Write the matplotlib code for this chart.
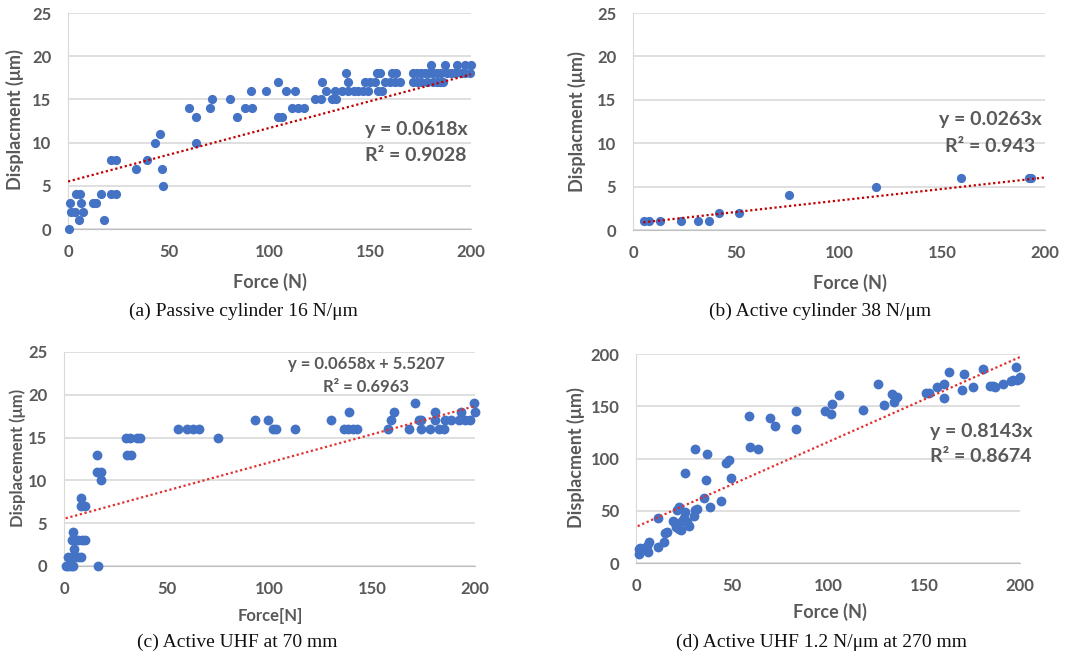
import matplotlib
matplotlib.use("Agg")
import matplotlib.pyplot as plt
import numpy as np

# (a) Passive cylinder
a_force = [0.3, 1, 1.5, 3.5, 4, 6, 6.5, 5.6, 7.3, 12.4, 14, 16.5, 17.7, 21.3, 23.8, 21.3, 23.8,
           33.7, 39, 43.3, 45.5, 46.6, 47.1, 60, 63.7, 63.7, 70.5, 71.5, 80.2, 83.7, 87.8, 91, 91.3,
           98.4, 104.2, 104.2, 106.2, 108, 111.3, 114, 117, 112.5, 122.6, 125.4, 126, 128.2, 130.9,
           132.8, 132.5, 136, 139, 142, 144, 146.5, 137.8, 139, 147.4, 149.9, 152.4, 148.9, 153.2,
           154.8, 154, 156, 157.3, 159.8, 162.3, 164.8, 161, 162.8, 171, 173, 175, 177, 179, 181,
           183, 185, 171, 173, 175, 178, 181, 183, 186, 180.2, 187.1, 188, 190, 192, 195, 197, 199.5,
           193.2, 197, 199.8, 184.6]
a_disp = [0, 3, 2, 2, 4, 4, 3, 1, 2, 3, 3, 4, 1, 8, 8, 4, 4,
          7, 8, 10, 11, 7, 5, 14, 13, 10, 14, 15, 15, 13, 14, 16, 14,
          16, 17, 13, 13, 16, 14, 14, 14, 16, 15, 15, 17, 16, 15,
          15, 16, 16, 16, 16, 16, 16, 18, 17, 17, 17, 17, 16, 18,
          18, 16, 16, 17, 17, 17, 17, 18, 18, 18, 18, 18, 18, 18, 18,
          18, 18, 17, 17, 17, 17, 17, 17, 17, 19, 19, 18, 18, 18, 18, 18, 18,
          19, 19, 19, 17]
a_fit = (0.062, 5.5)
a_eq = ["y = 0.0618x", "R² = 0.9028"]

# (b) Active cylinder
b_force = [5.2, 7.9, 12.9, 23.1, 31.4, 36.9, 41.6, 51.6, 75.5, 117.9, 159.1, 192.4, 193]
b_disp = [1, 1, 1, 1, 1, 1, 2, 2, 4, 5, 6, 6, 6]
b_fit = (0.0265, 0.75)
b_eq = ["y = 0.0263x", "R² = 0.943"]

# (c) Active UHF at 70 mm
c_force = [0.8, 2.1, 3.2, 4.5, 1.8, 3.7, 5.4, 7, 8.3, 4.2, 3.7, 5.4, 7, 8.6, 10.2, 4.9, 8.1, 8.1,
           10.2, 16.2, 15.9, 18, 18.2, 16.4, 30, 32.1, 35.4, 37, 30.5, 32.4, 55.6, 59.7, 62.9, 65.9,
           74.8, 92.8, 99.4, 101.9, 103.2, 112.6, 129.9, 136.3, 138.4, 140.5, 142.4, 138.5, 157.8,
           159, 160.4, 167.7, 171, 172.6, 173.9, 173.9, 178.1, 180.7, 180.7, 182.3, 184.9, 185.6,
           188.2, 193.3, 192.4, 195.1, 197.6, 199.5, 199.8]
c_disp = [0, 0, 0, 0, 1, 1, 1, 1, 1, 4, 3, 3, 3, 3, 3, 2, 8, 7,
          7, 13, 11, 11, 10, 0, 15, 15, 15, 15, 13, 13, 16, 16, 16, 16,
          15, 17, 17, 16, 16, 16, 17, 16, 16, 16, 16, 18, 16,
          17, 18, 16, 19, 17, 17, 16, 16, 18, 17, 16, 16, 17,
          17, 18, 17, 17, 17, 19, 18]
c_fit = (0.0658, 5.5207)
c_eq = ["y = 0.0658x + 5.5207", "R² = 0.6963"]

# (d) Active UHF 1.2 N/um at 270 mm
d_force = [1.6, 1.6, 1.9, 6.2, 6.6, 5.7, 11.3, 11.4, 14.4, 15.3, 16.1, 19.3, 20.5, 21.3, 22.4, 21,
           22.2, 23.4, 24, 24.8, 25.7, 25.3, 26.5, 27.4, 30, 30.9, 31.7, 30.5, 35.2, 36.4, 36.9,
           38.7, 44.2, 47, 48.2, 49.6, 59, 59.5, 63.8, 69.6, 72.2, 83.4, 83.4, 98.5, 101.6, 102,
           105.5, 118, 126.1, 129.2, 133.2, 134.4, 135.8, 151.1, 152.8, 156.6, 160.4, 160.4, 163.2,
           169.6, 170.9, 175.7, 180.6, 184.4, 186.1, 187, 191.3, 195.1, 196.5, 197.9, 198.3, 199.3,
           200]
d_disp = [9, 13, 14, 10.5, 20, 16, 15, 43, 20, 29, 30, 40, 38, 51, 54, 34,
          33, 32, 40, 43, 49, 86, 39, 35, 45, 51, 52, 109, 62, 79, 104,
          54, 59, 96, 99, 81, 141, 111, 109, 139, 131, 145, 128, 145, 143, 152,
          161, 146, 171, 151, 162, 154, 159, 163, 163, 168, 171, 158, 183,
          166, 181, 168, 186, 169, 169, 168, 171, 174, 175, 188, 175, 176,
          178]
d_fit = (0.813, 34.5)
d_eq = ["y = 0.8143x", "R² = 0.8674"]

captions = ["(a) Passive cylinder 16 N/μm", "(b) Active cylinder 38 N/μm",
            "(c) Active UHF at 70 mm", "(d) Active UHF 1.2 N/μm at 270 mm"]

W, H = 1085, 658
BLUE = "#4472C4"
GREY = "#595959"
FONT = "Lato"

fig = plt.figure(figsize=(W / 100, H / 100), dpi=100)


def px_axes(x0, x1, y_top, y_bot):
    return fig.add_axes([x0 / W, 1 - y_bot / H, (x1 - x0) / W, (y_bot - y_top) / H])


def ftext(x, y, s, **kw):
    fig.text(x / W, 1 - y / H, s, **kw)


def panel(box, force, disp, fit, fit_x, ymax, ystep, eq, eq_xy, eq_size, msize, fitcolor):
    ax = px_axes(*box)
    ax.scatter(force, disp, s=msize, color=BLUE, zorder=3, linewidths=0, clip_on=False)
    xs = np.array(fit_x)
    ax.plot(xs, fit[0] * xs + fit[1], linestyle=(0, (1, 1.2)), color=fitcolor, lw=1.6, zorder=4)
    ax.set_xlim(0, 200)
    ax.set_ylim(0, ymax)
    ax.set_xticks(range(0, 201, 50))
    ax.set_yticks(np.arange(0, ymax + 1, ystep))
    ax.grid(True, axis="y", color="#d9d9d9", lw=1.2)
    ax.set_axisbelow(True)
    for side in ("top", "right"):
        ax.spines[side].set_visible(False)
    ax.spines["left"].set_color("#d9d9d9")
    ax.spines["bottom"].set_color("#bfbfbf")
    ax.tick_params(length=0, labelsize=12, labelcolor=GREY)
    ax.tick_params(axis="y", pad=12)
    ax.tick_params(axis="x", pad=11)
    for lab in ax.get_xticklabels() + ax.get_yticklabels():
        lab.set_fontweight("bold")
        lab.set_family(FONT)
    ex, ey = eq_xy
    ftext(ex, ey[0], eq[0], ha="center", va="center", fontsize=eq_size, fontweight="bold",
          color=GREY, family=FONT)
    ftext(ex, ey[1], eq[1], ha="center", va="center", fontsize=eq_size, fontweight="bold",
          color=GREY, family=FONT)
    return ax


panel((68, 471, 13, 229), a_force, a_disp, a_fit, [0, 200], 25, 5, a_eq, (416, (130, 155)), 14, 44, "#C00000")
panel((633, 1045, 13, 230), b_force, b_disp, b_fit, [5, 200], 25, 5, b_eq, (990, (120, 146)), 14, 44, "#C00000")
panel((64, 475, 352, 566), c_force, c_disp, c_fit, [0.8, 200], 25, 5, c_eq, (366, (364, 387)), 12, 50, "#E03030")
panel((636, 1020, 354, 563), d_force, d_disp, d_fit, [0.9, 200.5], 200, 50, d_eq, (981, (432, 456)), 14, 50, "#E03030")

# axis labels
lab = dict(ha="center", va="center", color=GREY, family=FONT, fontweight="bold")
ftext(270, 282, "Force (N)", fontsize=13, **lab)
ftext(850, 283, "Force (N)", fontsize=13, **lab)
ftext(270, 616, "Force[N]", fontsize=12, **lab)
ftext(830, 612, "Force (N)", fontsize=13, **lab)
ftext(15, 120, "Displacment (μm)", fontsize=13, rotation=90, **lab)
ftext(577, 122, "Displacment (μm)", fontsize=13, rotation=90, **lab)
ftext(18, 458, "Displacement (μm)", fontsize=12, rotation=90, **lab)
ftext(576, 458, "Displacment (μm)", fontsize=13, rotation=90, **lab)

# captions
cap = dict(ha="center", va="center", color="#111111", family="Liberation Serif", fontsize=14)
ftext(243, 311, captions[0], **cap)
ftext(820, 311, captions[1], **cap)
ftext(237, 642, captions[2], **cap)
ftext(821, 642, captions[3], **cap)

fig.savefig("out.png", dpi=100)
plt.close(fig)
